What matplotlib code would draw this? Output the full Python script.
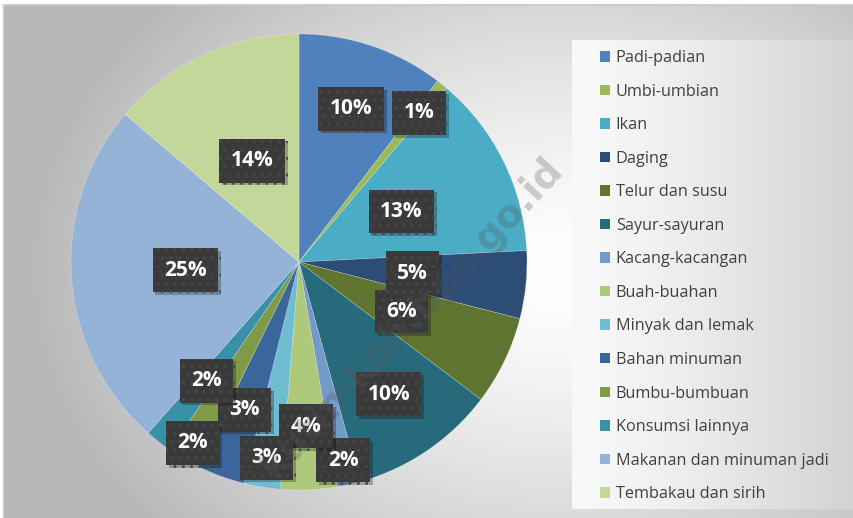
import numpy as np
import matplotlib
matplotlib.use("Agg")
import matplotlib.pyplot as plt
import matplotlib.patheffects as pe
from matplotlib.patches import Patch

categories = ["Padi-padian", "Umbi-umbian", "Ikan", "Daging", "Telur dan susu",
              "Sayur-sayuran", "Kacang-kacangan", "Buah-buahan", "Minyak dan lemak",
              "Bahan minuman", "Bumbu-bumbuan", "Konsumsi lainnya",
              "Makanan dan minuman jadi", "Tembakau dan sirih"]
shares = [10.4, 0.8, 13.0, 4.8, 6.3, 10.4, 1.6, 4.0, 2.6, 3.4, 2.3, 1.9, 24.7, 13.8]
colors = ["#4F81BD", "#9BBB59", "#4BACC6", "#2C4D75", "#5F7530", "#276A7C",
          "#729ACA", "#AFC97A", "#6FBDD1", "#3A669C", "#7F9B47", "#3891A7",
          "#95B3D7", "#C4D79B"]
# label distance from centre (fraction of radius) per slice
label_r = [0.71, 0.84, 0.50, 0.50, 0.50, 0.70, 0.89, 0.72, 0.87, 0.69, 0.92, 0.66, 0.50, 0.49]

W, H = 854, 518
fig = plt.figure(figsize=(W / 100, H / 100), dpi=100)
fig.patch.set_facecolor("white")

# background gradient
bg = fig.add_axes([0, 0, 1, 1], zorder=-10)
yy, xx = np.mgrid[0:H, 0:W].astype(float)
d = np.sqrt(((xx - 560) / 560) ** 2 + ((yy - 270) / 420) ** 2)
val = np.clip(1.0 - 0.30 * d ** 1.4, 0.72, 1.0)
# legend panel: horizontal gradient
panel = (xx >= 572) & (yy >= 40) & (yy <= 508)
pv = 0.975 - 0.15 * np.clip((xx - 572) / (W - 572), 0, 1) ** 1.3
val = np.where(panel, pv, val)
# outer white margin
val[:5, :] = 1.0
val[:, :3] = 1.0
img = np.dstack([val, val, val])
bg.imshow(img, extent=[0, W, H, 0], aspect="auto", interpolation="bilinear")
bg.set_xlim(0, W)
bg.set_ylim(H, 0)
bg.axis("off")
bg.plot([3, W], [5, 5], color="#c8c8c8", lw=1.2)
bg.plot([3, 3], [5, H], color="#d0d0d0", lw=1.0)

cx, cy, R = 299, 262, 228
ax = fig.add_axes([(cx - R) / W, (H - cy - R) / H, 2 * R / W, 2 * R / H])

wedges, _ = ax.pie(shares, colors=colors, startangle=90, counterclock=False,
                   radius=1.0, wedgeprops=dict(linewidth=0.4, edgecolor=(1, 1, 1, 0.35)))
ax.set_xlim(-1, 1)
ax.set_ylim(-1, 1)
ax.set_aspect("equal")
ax.axis("off")

for w, v, r in zip(wedges, shares, label_r):
    mid = np.deg2rad((w.theta1 + w.theta2) / 2)
    t = ax.text(r * np.cos(mid), r * np.sin(mid), f"{round(v)}%",
                ha="center", va="center", color="white", fontsize=15,
                fontweight="bold", family="Open Sans", zorder=5,
                bbox=dict(boxstyle="square,pad=0.55", facecolor="#3a3a3a",
                          edgecolor="#484848", linewidth=0, hatch=".."))
    t.get_bbox_patch().set_path_effects([
        pe.SimplePatchShadow(offset=(2, -2), shadow_rgbFace="black", alpha=0.25),
        pe.Normal()])

handles = [Patch(facecolor=c, edgecolor="none") for c in colors]
leg = fig.legend(handles, categories, loc="upper left",
                 bbox_to_anchor=(600 / W, 1 - 50 / H), frameon=False,
                 prop=dict(family="Open Sans", size=11.7), labelcolor="#404040",
                 handlelength=0.62, handleheight=0.62, handletextpad=0.35,
                 labelspacing=1.08, borderaxespad=0, borderpad=0)

# watermark
fig.text(412 / W, 1 - 318 / H, "kutimkab.bps.go.id", rotation=47,
         ha="center", va="center", fontsize=28, fontweight="bold",
         family="DejaVu Sans", color="#555555", alpha=0.28, zorder=3)

fig.savefig("out.png", dpi=100)
